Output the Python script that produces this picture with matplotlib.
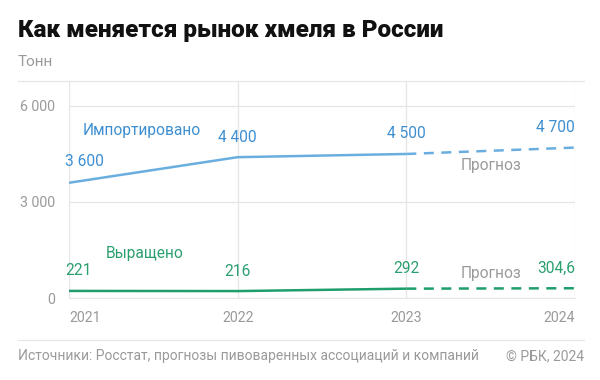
import matplotlib.pyplot as plt
from matplotlib.lines import Line2D

plt.rcParams['font.family'] = ['Roboto', 'DejaVu Sans']

years = [2021, 2022, 2023, 2024]
imported = [3600, 4400, 4500, 4700]
grown = [221, 216, 292, 304.6]
imported_labels = ['3 600', '4 400', '4 500', '4 700']
grown_labels = ['221', '216', '292', '304,6']
y_ticks = [0, 3000, 6000]
y_tick_labels = ['0', '3 000', '6 000']

blue_line = '#6aaee0'
blue_text = '#3d8fd1'
green_line = '#1f9e6c'
green_text = '#2c9f6f'
gray = '#9a9a9a'
grid = '#e6e6e6'

fig = plt.figure(figsize=(6, 3.8), dpi=100)
ax = fig.add_axes([69/600, 1-298/380, (575-69)/600, (298-81)/380])

# real data 2021-2023, forecast 2023-2024
ax.plot(years[:3], imported[:3], color=blue_line, lw=1.8, solid_capstyle='butt')
ax.plot(years[2:], imported[2:], color=blue_line, lw=1.8, ls=(0, (4, 3)))
ax.plot(years[:3], grown[:3], color=green_line, lw=1.8, solid_capstyle='butt')
ax.plot(years[2:], grown[2:], color=green_line, lw=1.8, ls=(0, (4, 3)))

ax.set_xlim(2021, 2024)
ax.set_ylim(0, 6780)
ax.set_yticks(y_ticks)
ax.set_yticklabels(y_tick_labels)
ax.set_xticks(years)
ax.set_xticklabels([str(y) for y in years])
ax.tick_params(length=0, colors=gray, labelsize=10.2)
ax.tick_params(axis='y', pad=10)
ax.tick_params(axis='x', pad=9)
xl = ax.get_xticklabels()
xl[0].set_ha('left')
xl[-1].set_ha('right')
for s in ax.spines.values():
    s.set_visible(False)
ax.spines['bottom'].set_visible(True)
ax.spines['bottom'].set_color(grid)
ax.grid(True, color=grid, lw=0.9)
ax.set_axisbelow(True)

# value labels
fs = 11.2
ax.annotate(imported_labels[0], (years[0], imported[0]), xytext=(-3, 10), textcoords='offset points',
            ha='left', va='bottom', color=blue_text, fontsize=fs)
ax.annotate(imported_labels[1], (years[1], imported[1]), xytext=(0, 9), textcoords='offset points',
            ha='center', va='bottom', color=blue_text, fontsize=fs)
ax.annotate(imported_labels[2], (years[2], imported[2]), xytext=(0, 9), textcoords='offset points',
            ha='center', va='bottom', color=blue_text, fontsize=fs)
ax.annotate(imported_labels[3], (years[3], imported[3]), xytext=(0, 9), textcoords='offset points',
            ha='right', va='bottom', color=blue_text, fontsize=fs)
ax.annotate(grown_labels[0], (years[0], grown[0]), xytext=(-3, 9), textcoords='offset points',
            ha='left', va='bottom', color=green_text, fontsize=fs)
ax.annotate(grown_labels[1], (years[1], grown[1]), xytext=(0, 9), textcoords='offset points',
            ha='center', va='bottom', color=green_text, fontsize=fs)
ax.annotate(grown_labels[2], (years[2], grown[2]), xytext=(0, 9), textcoords='offset points',
            ha='center', va='bottom', color=green_text, fontsize=fs)
ax.annotate(grown_labels[3], (years[3], grown[3]), xytext=(0, 9), textcoords='offset points',
            ha='right', va='bottom', color=green_text, fontsize=fs)

# series names and forecast notes
ax.text(2021.08, 5000, 'Импортировано', color=blue_text, fontsize=fs, ha='left', va='bottom')
ax.text(2021.22, 1150, 'Выращено', color=green_text, fontsize=fs, ha='left', va='bottom')
ax.text(2023.5, 3900, 'Прогноз', color=gray, fontsize=fs, ha='center', va='bottom')
ax.text(2023.5, 530, 'Прогноз', color=gray, fontsize=fs, ha='center', va='bottom')

# title, unit, frame lines, footer
fig.text(18/600, 1-30/380, 'Как меняется рынок хмеля в России', fontsize=17.5,
         fontweight='black', ha='left', va='center', color='#111111')
fig.text(18/600, 1-62/380, 'Тонн', fontsize=11, color=gray, ha='left', va='center')
fig.add_artist(Line2D([18/600, 584/600], [1-81/380, 1-81/380], color=grid, lw=0.9))
fig.add_artist(Line2D([18/600, 584/600], [1-340/380, 1-340/380], color=grid, lw=0.9))
fig.text(18/600, 1-356/380, 'Источники: Росстат, прогнозы пивоваренных ассоциаций и компаний',
         fontsize=10, color=gray, ha='left', va='center')
fig.text(584/600, 1-356/380, '© РБК, 2024', fontsize=10, color=gray, ha='right', va='center')

fig.savefig('out.png', dpi=100, facecolor='white')
